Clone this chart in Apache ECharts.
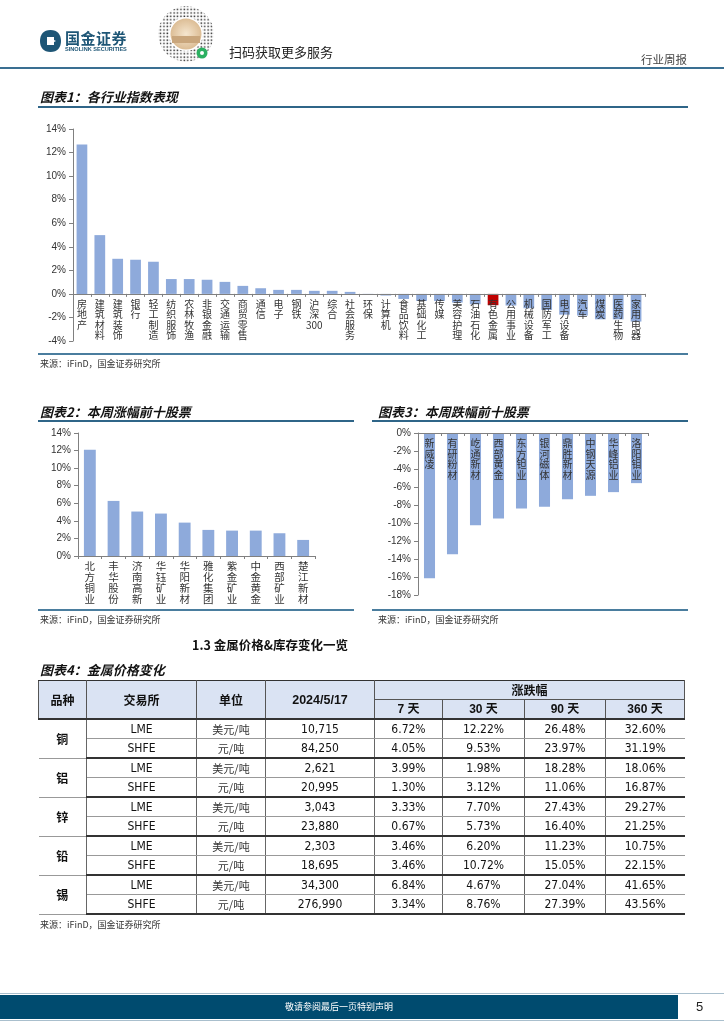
<!DOCTYPE html>
<html><head><meta charset="utf-8">
<script src="https://cdn.jsdelivr.net/npm/echarts/dist/echarts.min.js"></script>
<style>
html,body{margin:0;padding:0;background:#fff;}
body{width:724px;height:1024px;position:relative;overflow:hidden;font-family:"Noto Sans CJK SC","Liberation Sans",sans-serif;color:#222;}
#chart{position:absolute;left:0;top:0;width:724px;height:1024px;z-index:0;}
.abs{position:absolute;z-index:2;white-space:nowrap;}
.title{font-weight:bold;font-style:italic;font-size:13px;line-height:16px;color:#111;}
.src{font-size:9px;line-height:12px;color:#333;}
.hl{position:absolute;z-index:2;background:#2f6588;}
#tbl{position:absolute;left:38px;top:680px;border-collapse:collapse;table-layout:fixed;width:646px;z-index:2;}
#tbl th,#tbl td{padding:0;text-align:center;font-size:12px;height:18px;line-height:18px;}
#tbl th{background:#dae3f3;border:1px solid #555;font-weight:bold;color:#111;}
#tbl tr.h1 th{border-top:1px solid #333;}
#tbl tr.h1 th[rowspan],#tbl tr.h2 th{border-bottom:2px solid #333;}
#tbl th.num{font-family:"Liberation Sans",sans-serif;font-size:12.5px;}
#tbl tr.h2 th{font-family:"Liberation Sans","Noto Sans CJK SC",sans-serif;}
#tbl td{border-left:1px solid #666;border-right:1px solid #666;font-family:"Liberation Sans Narrow","DejaVu Sans Condensed","Liberation Sans",sans-serif;color:#111;}
#tbl td:first-child{border-left:none;}
#tbl td:last-child{border-right:none;}
#tbl tr.first td{border-bottom:1px solid #999;}
#tbl tr.second td,#tbl td.metal{border-bottom:2px solid #333;}
#tbl td.metal{font-family:"Noto Sans CJK SC",sans-serif;font-weight:bold;border-left:none;}
#tbl td.unit{font-family:"Noto Sans CJK SC",sans-serif;font-size:11px;color:#333;}
</style></head>
<body>
<div id="chart"></div>

<!-- header -->
<svg class="abs" style="left:39px;top:29px" width="23" height="24" viewBox="0 0 23 24">
  <path d="M11.5 1 C4.5 1 1 5.5 1 12 C1 18.5 4.5 23 11.5 23 C18.5 23 22 18.5 22 12 C22 5.5 18.5 1 11.5 1 Z" fill="#1e5676"/>
  <path d="M8 8 L15 8 L15 11 L17 12 L15 13 L15 16 L8 16 Z" fill="#fff"/>
</svg>
<div class="abs" style="left:65px;top:29px;font-size:15px;font-weight:bold;color:#1e5676;letter-spacing:0.5px;line-height:18px;">国金证券</div>
<div class="abs" style="left:65px;top:46px;font-size:5.6px;font-weight:bold;color:#1e5676;line-height:7px;font-family:'Liberation Sans',sans-serif;">SINOLINK SECURITIES</div>
<svg class="abs" style="left:156px;top:5px" width="60" height="58" viewBox="0 0 60 58">
  <defs>
    <pattern id="dots" width="3.4" height="3.4" patternUnits="userSpaceOnUse">
      <rect x="0.4" y="0.4" width="1.5" height="1.5" fill="#333"/>
    </pattern>
    <clipPath id="ring"><circle cx="30" cy="29" r="28"/></clipPath>
    <radialGradient id="beige"><stop offset="0" stop-color="#f5e6cf"/><stop offset="1" stop-color="#dcbd95"/></radialGradient>
  </defs>
  <circle cx="30" cy="29" r="28" fill="url(#dots)" clip-path="url(#ring)"/>
  <circle cx="30" cy="29" r="17" fill="#fff"/>
  <circle cx="30" cy="29" r="15.5" fill="url(#beige)"/>
  <rect x="16" y="31" width="28" height="7" fill="#c9a67c"/>
  <circle cx="46" cy="48" r="5.5" fill="#2bb061"/>
  <circle cx="46" cy="48" r="2" fill="#fff"/>
</svg>
<div class="abs" style="left:229px;top:44px;font-size:13px;line-height:16px;color:#222;">扫码获取更多服务</div>
<div class="abs" style="left:641px;top:52px;font-size:11.5px;line-height:14px;color:#444;">行业周报</div>
<div class="hl" style="left:0;top:67px;width:724px;height:2px;background:#3a6f92;"></div>

<!-- chart 1 -->
<div class="abs title" style="left:40px;top:89px;">图表1：各行业指数表现</div>
<div class="hl" style="left:38px;top:106px;width:650px;height:2px;"></div>
<div class="hl" style="left:38px;top:353px;width:650px;height:1.5px;background:#4a7d9e;"></div>
<div class="abs src" style="left:40px;top:358px;">来源：iFinD，国金证券研究所</div>

<!-- chart 2 / 3 -->
<div class="abs title" style="left:40px;top:404px;">图表2：本周涨幅前十股票</div>
<div class="hl" style="left:38px;top:420px;width:316px;height:2px;"></div>
<div class="hl" style="left:38px;top:609px;width:316px;height:1.5px;background:#4a7d9e;"></div>
<div class="abs src" style="left:40px;top:614px;">来源：iFinD，国金证券研究所</div>

<div class="abs title" style="left:378px;top:404px;">图表3：本周跌幅前十股票</div>
<div class="hl" style="left:372px;top:420px;width:316px;height:2px;"></div>
<div class="hl" style="left:372px;top:609px;width:316px;height:1.5px;background:#4a7d9e;"></div>
<div class="abs src" style="left:378px;top:614px;">来源：iFinD，国金证券研究所</div>

<!-- section 1.3 -->
<div class="abs" style="left:192px;top:637px;font-size:12.5px;font-weight:bold;line-height:16px;color:#111;">1.3 金属价格&amp;库存变化一览</div>
<div class="abs title" style="left:40px;top:662px;">图表4：金属价格变化</div>
<table id="tbl"></table>
<div class="abs src" style="left:40px;top:919px;">来源：iFinD，国金证券研究所</div>

<!-- footer -->
<div class="hl" style="left:0;top:993px;width:724px;height:1px;background:#a9bfcd;"></div>
<div class="hl" style="left:0;top:995px;width:678px;height:24px;background:#004b6f;"></div>
<div class="hl" style="left:0;top:1020px;width:724px;height:1px;background:#a9bfcd;"></div>
<div class="abs" style="left:0;width:678px;top:1001px;text-align:center;font-size:9px;line-height:12px;color:#fff;">敬请参阅最后一页特别声明</div>
<div class="abs" style="left:696px;top:998px;font-size:13px;line-height:18px;color:#222;font-family:'Liberation Sans',sans-serif;">5</div>

<script>
// ---- Chart 1: industry index performance (%)
const industryNames = ['房地产','建筑材料','建筑装饰','银行','轻工制造','纺织服饰','农林牧渔','非银金融','交通运输','商贸零售','通信','电子','钢铁','沪深300','综合','社会服务','环保','计算机','食品饮料','基础化工','传媒','美容护理','石油石化','有色金属','公用事业','机械设备','国防军工','电力设备','汽车','煤炭','医药生物','家用电器'];
const industryValues = [12.68,4.99,2.98,2.9,2.73,1.26,1.26,1.2,1.02,0.68,0.48,0.34,0.34,0.26,0.26,0.17,0.01,-0.14,-0.43,-0.6,-0.6,-0.74,-0.88,-0.96,-0.99,-1.22,-1.36,-1.76,-1.84,-2.16,-2.16,-2.35];
const highlightIndustry = '有色金属';

// ---- Chart 2: top 10 gainers (%)
const gainerNames = ['北方铜业','丰华股份','济南高新','华钰矿业','华阳新材','雅化集团','紫金矿业','中金黄金','西部矿业','楚江新材'];
const gainerValues = [12.09,6.27,5.06,4.83,3.8,2.97,2.89,2.89,2.59,1.83];

// ---- Chart 3: top 10 losers (%)
const loserNames = ['新威凌','有研粉材','屹通新材','西部黄金','东方钽业','银河磁体','鼎胜新材','中钢天源','华峰铝业','洛阳钼业'];
const loserValues = [-16.14,-13.47,-10.24,-9.5,-8.39,-8.2,-7.35,-6.98,-6.57,-5.57];

// ---- Table 4: metal prices
const metals = ['铜','铝','锌','铅','锡'];
const exchanges = ['LME','SHFE'];
const units = ['美元/吨','元/吨'];
const priceDate = '2024/5/17';
const periodLabels = ['7 天','30 天','90 天','360 天'];
const prices = [[10715,84250],[2621,20995],[3043,23880],[2303,18695],[34300,276990]];
const chg7 = [[6.72,4.05],[3.99,1.30],[3.33,0.67],[3.46,3.46],[6.84,3.34]];
const chg30 = [[12.22,9.53],[1.98,3.12],[7.70,5.73],[6.20,10.72],[4.67,8.76]];
const chg90 = [[26.48,23.97],[18.28,11.06],[27.43,16.40],[11.23,15.05],[27.04,27.39]];
const chg360 = [[32.60,31.19],[18.06,16.87],[29.27,21.25],[10.75,22.15],[41.65,43.56]];

// build table
(function(){
  const colW = [48,110,69,109,68,82,81,79];
  let h = '<colgroup>' + colW.map(w => '<col style="width:' + w + 'px">').join('') + '</colgroup>';
  h += '<tr class="h1"><th rowspan="2">品种</th><th rowspan="2">交易所</th><th rowspan="2">单位</th><th rowspan="2" class="num">' + priceDate + '</th><th colspan="4">涨跌幅</th></tr>';
  h += '<tr class="h2">' + periodLabels.map(p => '<th>' + p + '</th>').join('') + '</tr>';
  metals.forEach((m, i) => {
    exchanges.forEach((ex, j) => {
      h += '<tr class="' + (j === 0 ? 'first' : 'second') + '">';
      if (j === 0) h += '<td rowspan="2" class="metal">' + m + '</td>';
      h += '<td>' + ex + '</td><td class="unit">' + units[j] + '</td><td>' + prices[i][j].toLocaleString('en-US') + '</td>';
      h += [chg7, chg30, chg90, chg360].map(a => '<td>' + a[i][j].toFixed(2) + '%</td>').join('');
      h += '</tr>';
    });
  });
  document.getElementById('tbl').innerHTML = h;
})();

const vert = s => (s.match(/\d+|./g) || []).join('\n');
const barColor = '#8eaadb';
const axisColor = '#808080';
const numFont = 'Liberation Sans';
const cjkFont = 'Noto Sans CJK SC';

const grids = [
  { left: 73, top: 129, width: 572, height: 212 },
  { left: 78, top: 433, width: 237, height: 123 },
  { left: 418, top: 433, width: 230, height: 162 }
];
const ranges = [[-4, 14], [0, 14], [-18, 0]];

// category axis placed on the zero line of the value axis (offset derived from the value scale)
function xAx(gridIndex, names, fs, lh) {
  const [mn, mx] = ranges[gridIndex];
  const zeroOffset = mn < 0 ? -(0 - mn) / (mx - mn) * grids[gridIndex].height : 0;
  return {
    type: 'category', gridIndex, data: names, position: 'bottom', offset: zeroOffset, z: 10,
    axisLine: { show: true, onZero: false, lineStyle: { color: axisColor, width: 1 } },
    axisTick: { show: true, length: 3, lineStyle: { color: axisColor } },
    axisLabel: { interval: 0, formatter: vert, fontSize: fs, lineHeight: lh, color: '#333', fontFamily: cjkFont, margin: 5 },
    splitLine: { show: false }
  };
}
function yAx(gridIndex) {
  const [mn, mx] = ranges[gridIndex];
  return {
    type: 'value', gridIndex, min: mn, max: mx, interval: 2,
    axisLine: { show: true, lineStyle: { color: axisColor } },
    axisTick: { show: true, length: 4, lineStyle: { color: axisColor } },
    axisLabel: { formatter: '{value}%', fontSize: 10, color: '#333', fontFamily: numFont, margin: 7 },
    splitLine: { show: false }
  };
}

const chart = echarts.init(document.getElementById('chart'), null, { renderer: 'canvas' });
chart.setOption({
  animation: false,
  backgroundColor: 'transparent',
  grid: grids,
  xAxis: [ xAx(0, industryNames, 10, 10.5), xAx(1, gainerNames, 10.5, 11), xAx(2, loserNames, 10, 10.5) ],
  yAxis: [ yAx(0), yAx(1), yAx(2) ],
  series: [
    { type: 'bar', xAxisIndex: 0, yAxisIndex: 0, barWidth: '60%', silent: true, z: 2,
      data: industryValues.map((v, i) => ({ value: v, itemStyle: { color: industryNames[i] === highlightIndustry ? '#c00000' : barColor } })) },
    { type: 'bar', xAxisIndex: 1, yAxisIndex: 1, barWidth: '50%', silent: true, z: 2, itemStyle: { color: barColor }, data: gainerValues },
    { type: 'bar', xAxisIndex: 2, yAxisIndex: 2, barWidth: '48%', silent: true, z: 2, itemStyle: { color: barColor }, data: loserValues }
  ]
});
</script>
</body></html>
